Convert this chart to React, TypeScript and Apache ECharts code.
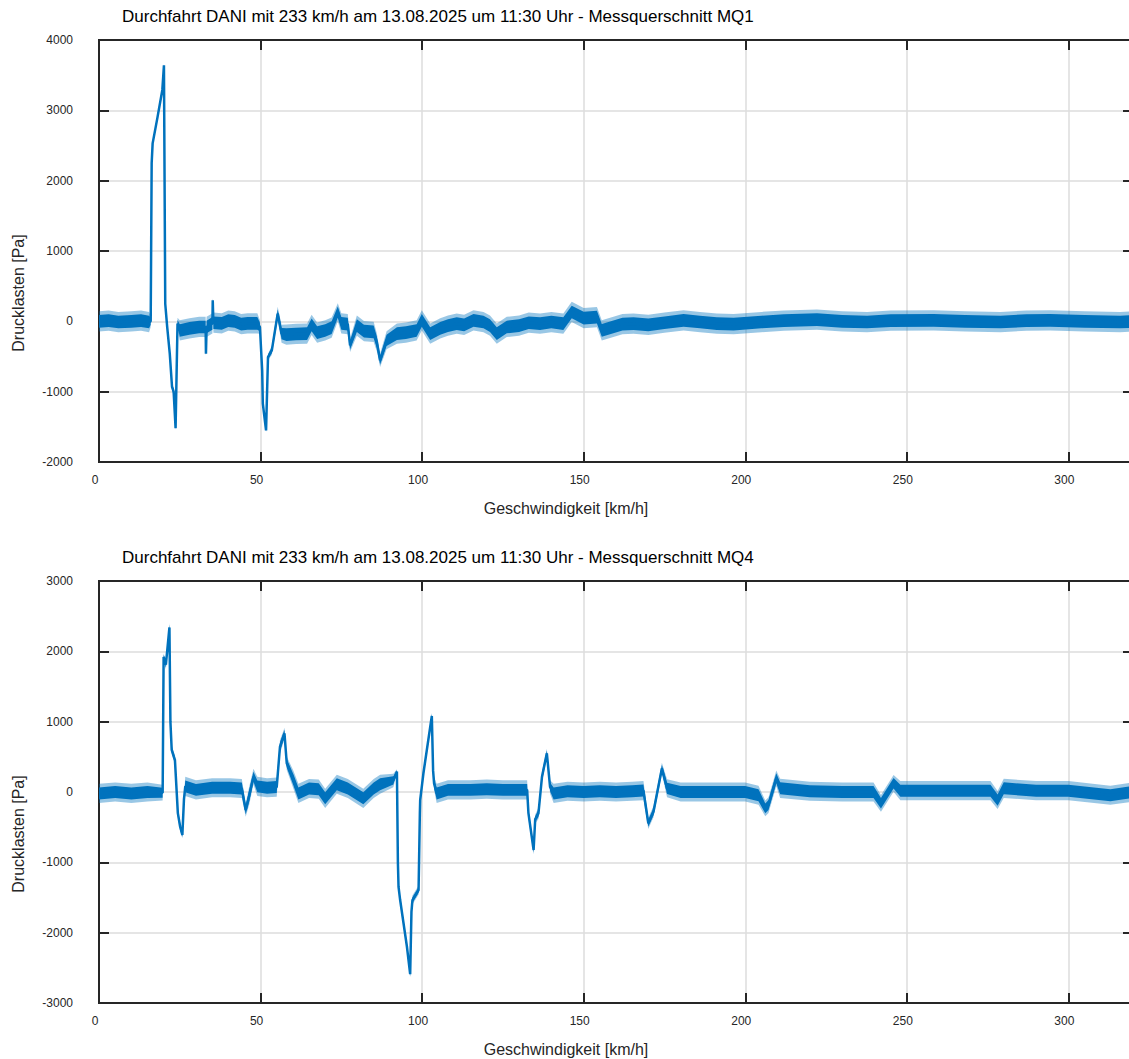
import React, { useEffect, useRef } from "react";
import * as echarts from "echarts";

const titles = [
  "Durchfahrt DANI mit 233 km/h am 13.08.2025 um 11:30 Uhr - Messquerschnitt MQ1",
  "Durchfahrt DANI mit 233 km/h am 13.08.2025 um 11:30 Uhr - Messquerschnitt MQ4",
];
const xName = "Geschwindigkeit [km/h]";
const yName = "Drucklasten [Pa]";
const xRange = [0, 320];
const xStep = 50;
const yRanges = [
  [-2000, 4000],
  [-3000, 3000],
];
const yStep = 1000;

// [speed km/h, pressure Pa, noise half-amplitude Pa]
const mq1Trace: number[][] = [
  [0, 0, 90], [3, 10, 90], [6, -10, 90], [10, 0, 90], [13, 10, 90], [15.5, -10, 90], [16.0, 0, 50],
  [16.3, 2250, 20], [16.6, 2530, 20], [18.1, 2900, 25], [19.6, 3290, 25], [20.1, 3640, 15],
  [20.5, 250, 20], [21.1, -80, 40], [21.9, -460, 40], [22.6, -930, 40], [23.1, -1000, 30],
  [23.7, -1520, 15], [24.3, -30, 50], [25, -130, 90], [28, -100, 90], [31, -80, 90],
  [33.0, -80, 90], [33.1, -460, 20], [33.3, -80, 90], [35.1, -30, 90], [35.2, 300, 20],
  [35.4, -20, 90], [38, -30, 90], [40, 10, 90], [42, 0, 90], [44, -40, 90], [46, -30, 90], [49, -30, 90],
  [49.8, -80, 60], [50.5, -700, 30], [50.7, -1170, 30], [51.7, -1550, 15], [52.3, -510, 30],
  [53.5, -410, 40], [55.3, 110, 60], [56.5, -175, 80], [58, -190, 90], [61, -180, 90],
  [64.4, -175, 90], [65.8, -50, 90], [67.5, -160, 90], [70, -130, 90], [72, -90, 90],
  [73.9, 130, 80], [75, -30, 90], [77.0, -40, 90], [77.7, -340, 60], [79.8, -60, 90],
  [82, -140, 90], [85, -150, 90], [86, -300, 80], [87, -555, 60], [89, -270, 80],
  [92.2, -175, 90], [95, -160, 90], [98.3, -130, 90], [99.9, 14, 90], [102.5, -175, 90],
  [105.6, -100, 90], [108, -60, 90], [110.7, -33, 90], [113, -50, 90], [115.9, 14, 90], [119, -10, 90],
  [121, -60, 90], [123.1, -175, 90], [126.2, -80, 90], [130, -60, 90], [133, -20, 90], [136.5, -33, 90],
  [140, -10, 90], [143.7, -33, 90], [146.3, 133, 90], [150, 45, 90], [154.1, 60, 90], [155.6, -128, 90],
  [162, -40, 90], [165.4, -33, 90], [170, -50, 90], [175, -20, 90], [180.9, 14, 90], [186, -10, 90],
  [191.2, -33, 90], [196.4, -40, 90], [205, -10, 90], [212, 10, 90], [222.2, 24, 90], [230, 0, 90],
  [237.7, -10, 90], [245, 10, 90], [258.3, 14, 90], [268, 0, 90], [279, -10, 90], [287, 10, 90],
  [294.4, 14, 90], [305, 0, 90], [316, -10, 90], [320, 0, 90],
];

const mq4Trace: number[][] = [
  [0, -20, 85], [5, 0, 85], [10, -20, 85], [15, 0, 85], [19.7, -10, 70],
  [19.9, 1300, 20], [20.0, 1920, 30], [20.7, 1810, 40], [21.8, 2340, 40], [22.1, 1000, 20],
  [22.5, 600, 40], [23.5, 455, 40], [24.4, -300, 40], [25.1, -490, 40], [25.8, -610, 30],
  [26.3, -100, 40], [26.7, 80, 85], [30, 30, 85], [35, 60, 85], [40.6, 60, 85],
  [44.2, 50, 85], [45.4, -256, 60], [46.5, -50, 80], [47.8, 218, 70], [49, 80, 85],
  [52, 60, 85], [55, 70, 85], [56, 640, 60], [57.4, 834, 50], [58.1, 410, 60],
  [60.2, 170, 80], [61.7, -20, 85], [65, 50, 85], [68, 40, 85], [70, -90, 85],
  [73.6, 110, 85], [77, 50, 85], [81.8, -90, 85], [85, 50, 85], [87, 110, 85],
  [91.1, 165, 60], [92.2, 290, 20], [92.5, -1000, 20], [92.7, -1350, 30], [93.2, -1536, 40],
  [95.3, -2200, 40], [96.3, -2590, 30], [96.7, -1700, 20], [97.0, -1536, 40], [98.9, -1394, 40],
  [99.3, -300, 20], [99.4, -114, 40], [100.4, 266, 40], [103.0, 1080, 30], [103.4, 300, 20],
  [103.7, 123, 60], [104.5, -20, 85], [108, 30, 85], [115, 30, 85], [120, 40, 85],
  [125, 30, 85], [130, 30, 85], [132.5, 30, 85], [132.9, -300, 50], [134.5, -825, 40],
  [135, -384, 40], [136, -304, 50], [137.1, 218, 50], [138.6, 550, 40], [139.6, 71, 60],
  [140.7, -20, 85], [145, 10, 85], [150, 0, 85], [155, 10, 85], [160, 0, 85],
  [165, 10, 85], [168.5, 20, 85], [170, -445, 50], [171.6, -280, 50], [174.2, 335, 50],
  [175.8, 52, 80], [180, 0, 85], [190, 0, 85], [200, 0, 85], [204.1, -47, 85],
  [206.2, -232, 70], [207.2, -185, 70], [209.6, 195, 70], [210.8, 52, 85], [220, 10, 85],
  [230, 0, 85], [239.7, 0, 85], [242, -161, 75], [245.9, 123, 75], [248, 19, 85],
  [260, 19, 85], [270, 19, 85], [275.9, 19, 85], [278.1, -114, 80], [280, 52, 85],
  [290, 19, 85], [300, 19, 85], [313, -47, 85], [320, 0, 85],
];

const traces = [mq1Trace, mq4Trace];

const BLUE = "#0072BD";
const DARK = "#262626";
const GRIDC = "#dcdcdc";
const FONT = "Liberation Sans, Arial, Helvetica, sans-serif";

const gridTops = [40, 581];
const plotH = 422;
const plotW = 1034;
const plotL = 99;

function App() {
  const ref = useRef<HTMLDivElement>(null);
  useEffect(() => {
    if (!ref.current) return;
    const chart = echarts.init(ref.current, null, { renderer: "svg" });
    const grids: any[] = [];
    const xAxes: any[] = [];
    const yAxes: any[] = [];
    const series: any[] = [];
    const graphics: any[] = [];
    traces.forEach((trace, i) => {
      grids.push({
        left: plotL, top: gridTops[i], width: plotW, height: plotH,
        show: true, borderColor: DARK, borderWidth: 2, backgroundColor: "#fff",
      });
      const tick = { show: true, inside: true, length: 10, lineStyle: { color: DARK, width: 2 } };
      const line = { show: true, onZero: false, lineStyle: { color: DARK, width: 2 } };
      const split = { show: true, showMinLine: false, showMaxLine: false, lineStyle: { color: GRIDC, width: 1.5 } };
      xAxes.push({
        gridIndex: i, type: "value", position: "bottom", min: xRange[0], max: xRange[1], interval: xStep,
        axisLine: line, axisTick: tick,
        axisLabel: {
          fontSize: 12, color: DARK, margin: 12, fontFamily: FONT, padding: [0, 8, 0, 0],
          showMaxLabel: false, formatter: (v: number) => String(v),
        },
        splitLine: split,
      });
      xAxes.push({
        gridIndex: i, type: "value", position: "top", min: xRange[0], max: xRange[1], interval: xStep,
        axisLine: line, axisTick: tick, axisLabel: { show: false }, splitLine: { show: false },
      });
      yAxes.push({
        gridIndex: i, type: "value", position: "left", min: yRanges[i][0], max: yRanges[i][1], interval: yStep,
        axisLine: line, axisTick: tick,
        axisLabel: {
          fontSize: 12, color: DARK, margin: 26, fontFamily: FONT, padding: [0, 0, 3, 0],
          formatter: (v: number) => String(v),
        },
        splitLine: split,
      });
      yAxes.push({
        gridIndex: i, type: "value", position: "right", min: yRanges[i][0], max: yRanges[i][1], interval: yStep,
        axisLine: line, axisTick: tick, axisLabel: { show: false }, splitLine: { show: false },
      });
      series.push({
        type: "custom",
        xAxisIndex: i * 2, yAxisIndex: i * 2,
        silent: true, z: 2,
        data: [[trace[0][0], trace[0][1]]],
        renderItem: (_p: any, api: any) => {
          const mk = (k: number, style: any) => {
            const up = trace.map((t) => api.coord([t[0], t[1] + t[2] * k]));
            const dn = trace.map((t) => api.coord([t[0], t[1] - t[2] * k])).reverse();
            return { type: "polygon", shape: { points: up.concat(dn) }, style };
          };
          return {
            type: "group",
            children: [mk(1.6, { fill: BLUE, opacity: 0.4 }), mk(1, { fill: BLUE })],
          };
        },
      });
      series.push({
        type: "line",
        xAxisIndex: i * 2, yAxisIndex: i * 2,
        data: trace.map((t) => [t[0], t[1]]),
        showSymbol: false, z: 3,
        lineStyle: { color: BLUE, width: 2.5 },
      });
      const top = gridTops[i];
      graphics.push({
        type: "text", left: 122, top: top - 32,
        style: { text: titles[i], fontSize: 17, fill: "#000", fontFamily: FONT },
      });
      graphics.push({
        type: "text", x: 566, y: top + plotH + 46,
        style: { text: xName, fontSize: 16, fill: DARK, fontFamily: FONT, align: "center", verticalAlign: "middle" },
      });
      graphics.push({
        type: "text", x: 18, y: top + 253, rotation: Math.PI / 2,
        style: { text: yName, fontSize: 16, fill: DARK, fontFamily: FONT, align: "center", verticalAlign: "middle" },
      });
    });
    chart.setOption({
      animation: false,
      backgroundColor: "#fff",
      grid: grids,
      xAxis: xAxes,
      yAxis: yAxes,
      series,
      graphic: graphics,
    });
    return () => chart.dispose();
  }, []);
  return (
    <div style={{ position: "fixed", left: 0, top: 0, width: 1129, height: 1059, overflow: "hidden", background: "#fff" }}>
      <div ref={ref} style={{ width: 1140, height: 1059 }} />
    </div>
  );
}

export default App;
